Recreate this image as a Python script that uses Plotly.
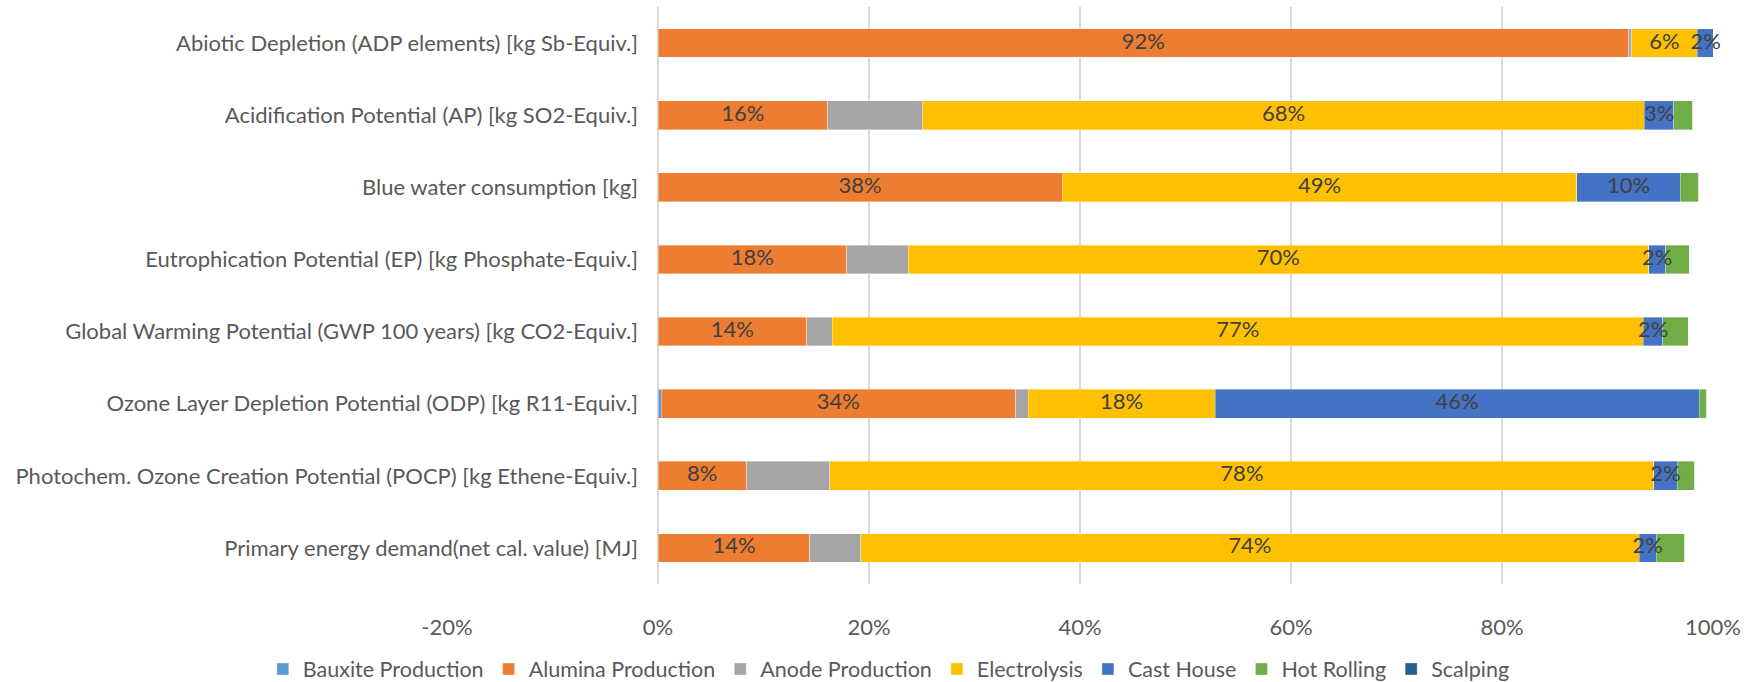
import plotly.graph_objects as go

categories = [
    "Abiotic Depletion (ADP elements) [kg Sb-Equiv.]",
    "Acidification Potential (AP) [kg SO2-Equiv.]",
    "Blue water consumption [kg]",
    "Eutrophication Potential (EP) [kg Phosphate-Equiv.]",
    "Global Warming Potential (GWP 100 years) [kg CO2-Equiv.]",
    "Ozone Layer Depletion Potential (ODP) [kg R11-Equiv.]",
    "Photochem. Ozone Creation Potential (POCP) [kg Ethene-Equiv.]",
    "Primary energy demand(net cal. value) [MJ]",
]

bauxite = [0.000, 0.000, 0.000, 0.000, 0.000, 0.003, 0.000, 0.000]
alumina = [0.920, 0.161, 0.383, 0.179, 0.141, 0.336, 0.084, 0.144]
anode = [0.003, 0.090, 0.000, 0.058, 0.024, 0.012, 0.079, 0.048]
electrolysis = [0.062, 0.684, 0.488, 0.702, 0.769, 0.177, 0.781, 0.738]
cast_house = [0.016, 0.028, 0.098, 0.016, 0.0185, 0.459, 0.022, 0.016]
hot_rolling = [0.0005, 0.018, 0.0174, 0.0225, 0.024, 0.007, 0.0165, 0.027]
scalping = [0.001, 0.000, 0.000, 0.000, 0.000, 0.000, 0.000, 0.000]

x_tickvals = [-0.2, 0, 0.2, 0.4, 0.6, 0.8, 1.0]
x_ticktext = ["-20%", "0%", "20%", "40%", "60%", "80%", "100%"]

series = [
    ("Bauxite Production", bauxite, "#5B9BD5", False),
    ("Alumina Production", alumina, "#ED7D31", True),
    ("Anode Production", anode, "#A5A5A5", False),
    ("Electrolysis", electrolysis, "#FFC000", True),
    ("Cast House", cast_house, "#4472C4", True),
    ("Hot Rolling", hot_rolling, "#70AD47", False),
    ("Scalping", scalping, "#255E91", False),
]

FONT = "Lato"
FS = 22
fig = go.Figure()
base = [0.0] * len(categories)
lab_x, lab_y, lab_t = [], [], []
for name, vals, color, labelled in series:
    fig.add_trace(go.Bar(
        y=categories, x=vals, name=name, orientation="h",
        marker=dict(color=color, line=dict(color="rgba(255,255,255,0.6)", width=0.6)),
        hoverinfo="skip",
    ))
    if labelled:
        for i, v in enumerate(vals):
            lab_x.append(base[i] + v / 2)
            lab_y.append(categories[i])
            lab_t.append(f"{v:.0%}")
    base = [b + v for b, v in zip(base, vals)]

fig.add_trace(go.Scatter(
    x=lab_x, y=lab_y, text=lab_t, mode="text", textposition="middle center",
    textfont=dict(family=FONT, size=FS, color="#404040"),
    showlegend=False, hoverinfo="skip", cliponaxis=False,
))

fig.update_layout(
    barmode="stack",
    bargap=0.6,
    width=1754, height=682,
    margin=dict(l=447, r=41, t=7, b=98, autoexpand=False),
    plot_bgcolor="white", paper_bgcolor="white",
    font=dict(family=FONT, size=FS, color="#595959"),
    showlegend=True,
    legend=dict(orientation="h", xref="paper", yref="paper",
                x=0.349, xanchor="center", y=-0.1473, yanchor="middle",
                bgcolor="rgba(0,0,0,0)",
                font=dict(family=FONT, size=21.5, color="#595959"),
                traceorder="normal"),
    xaxis=dict(range=[-0.2, 1.0], tickvals=x_tickvals, ticktext=x_ticktext,
               showgrid=True, gridcolor="#D9D9D9", gridwidth=1.5,
               zeroline=True, zerolinecolor="#D9D9D9", zerolinewidth=2,
               showline=False, ticks="", ticklabelstandoff=28, automargin=False),
    yaxis=dict(categoryorder="array", categoryarray=categories[::-1],
               anchor="free", position=1/6, side="left",
               showgrid=False, zeroline=False, showline=False, ticks="",
               ticklabelstandoff=20, automargin=False),
)

fig.write_html("out.html")
